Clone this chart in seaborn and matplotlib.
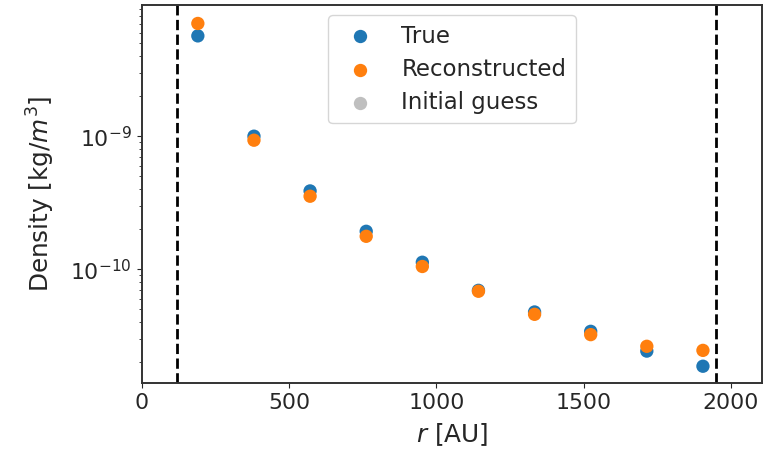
import numpy as np
import pandas as pd
import matplotlib
matplotlib.use("Agg")
import matplotlib.pyplot as plt
import seaborn as sns

# Radial grid of the density profile [AU]
radius_au = [190.5, 381, 571.5, 762, 952.5, 1143, 1333.5, 1524, 1714.5, 1905]

# Density values [kg/m^3]
true_density = [5.67e-9, 1.0e-9, 3.88e-10, 1.93e-10, 1.13e-10,
                6.95e-11, 4.78e-11, 3.42e-11, 2.43e-11, 1.87e-11]
reconstructed_density = [7.03e-9, 9.33e-10, 3.54e-10, 1.77e-10, 1.05e-10,
                         6.84e-11, 4.59e-11, 3.23e-11, 2.64e-11, 2.46e-11]

# Inner and outer boundary of the fitted region [AU]
boundaries_au = [120, 1950]

series_labels = ["True", "Reconstructed", "Initial guess"]
series_colors = ["#1f77b4", "#ff7f0e", "#808080"]
y_major_ticks = [1e-10, 1e-9]
x_major_ticks = [0, 500, 1000, 1500, 2000]

sns.set_style("ticks")
plt.rcParams["font.family"] = ["DejaVu Sans"]
plt.rcParams["font.size"] = 15.5
plt.rcParams["mathtext.fontset"] = "dejavusans"

df = pd.DataFrame({
    "r": radius_au * 2,
    "density": true_density + reconstructed_density,
    "series": [series_labels[0]] * len(radius_au) + [series_labels[1]] * len(radius_au),
})

fig = plt.figure(figsize=(7.83, 4.57), dpi=100)
ax = fig.add_axes([0.181, 0.162, 0.792, 0.827])

sns.scatterplot(data=df, x="r", y="density", hue="series",
                palette=series_colors[:2], s=92, linewidth=0, ax=ax,
                legend=False)
for lbl, col in zip(series_labels[:2], series_colors[:2]):
    ax.scatter([], [], s=92, color=col, linewidth=0, label=lbl)
ax.scatter([], [], s=92, color=series_colors[2], alpha=0.5, linewidth=0,
           label=series_labels[2])

for xb in boundaries_au:
    ax.axvline(xb, color="black", linestyle="--", linewidth=2)

ax.set_yscale("log")
ax.set_xlim(0, 2105)
ax.set_ylim(1.40e-11, 9.67e-9)
ax.set_xticks(x_major_ticks)
ax.set_yticks(y_major_ticks)
ax.set_xlabel("$r$ [AU]", fontsize=17.8, labelpad=6)
ax.set_ylabel("Density [kg/$m^3$]", fontsize=17.8, labelpad=10)
ax.tick_params(labelsize=15.8)
for sp in ax.spines.values():
    sp.set_color("#333333")
    sp.set_linewidth(1.4)

ax.legend(loc="upper center", fontsize=16.5, framealpha=0.8,
          borderaxespad=0.45, labelspacing=0.45)

fig.savefig("out.png", dpi=100)
